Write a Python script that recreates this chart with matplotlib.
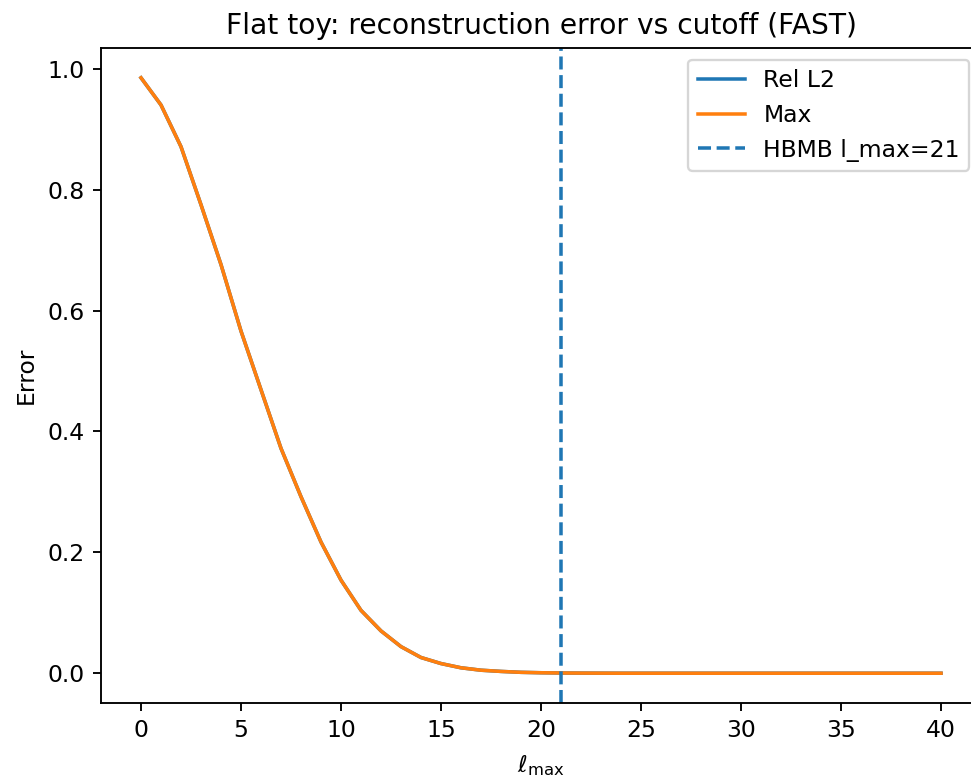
import numpy as np
import matplotlib
matplotlib.use("Agg")
import matplotlib.pyplot as plt

# cutoff values and errors
lmax = list(range(0, 41))
max_err = [0.985, 0.940, 0.871, 0.775, 0.676, 0.566, 0.469, 0.372, 0.292, 0.217,
           0.154, 0.104, 0.070, 0.044, 0.026, 0.016, 0.009, 0.005, 0.003, 0.0015,
           0.0008, 0.0004, 0.0002, 0.0001, 0.0, 0.0, 0.0, 0.0, 0.0, 0.0,
           0.0, 0.0, 0.0, 0.0, 0.0, 0.0, 0.0, 0.0, 0.0, 0.0, 0.0]
# Rel L2 is hidden under the Max curve in the reference
rel_l2 = list(max_err)
hbmb_lmax = 21

DPI = 168.75
W, H = 971, 782
fig = plt.figure(figsize=(W / DPI, H / DPI), dpi=DPI)
# the reference is cropped on the right, so the axes run past the edge
ax = fig.add_axes([101 / W, 1 - 703 / H, (981 - 101) / W, (703 - 48) / H])

ax.plot(lmax, rel_l2, label="Rel L2")
ax.plot(lmax, max_err, label="Max")
ax.axvline(hbmb_lmax, color="C0", linestyle="--", label=f"HBMB l_max={hbmb_lmax}")

ax.set_title("Flat toy: reconstruction error vs cutoff (FAST)")
ax.set_xlabel(r"$\ell_{\max}$")
ax.set_ylabel("Error")
ax.legend(loc="upper right")

fig.savefig("out.png", dpi=DPI)
